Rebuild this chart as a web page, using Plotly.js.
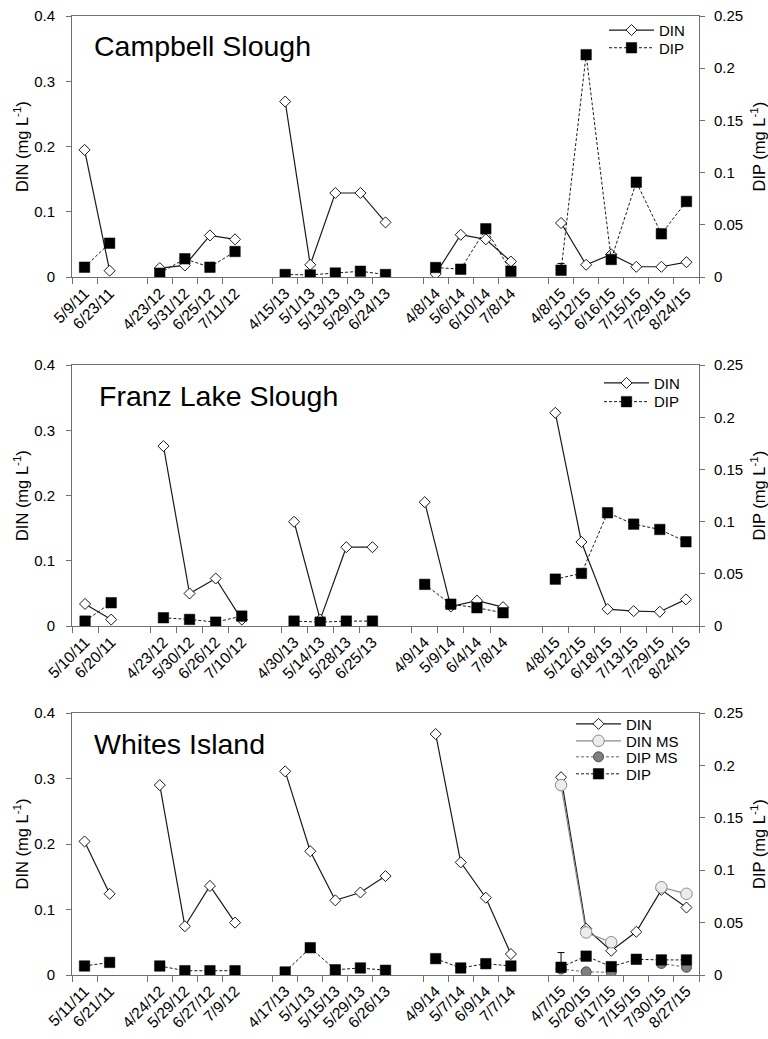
<!DOCTYPE html>
<html><head><meta charset="utf-8">
<script src="https://cdn.plot.ly/plotly-3.0.1.min.js"></script>
<style>html,body{margin:0;padding:0;background:#fff}#chart{width:768px;height:1039px}</style>
</head><body><div id="chart"></div>
<script>
// ---------- Campbell Slough ----------
const cs_dates = ['5/9/11','6/23/11','4/23/12','5/31/12','6/25/12','7/11/12','4/15/13','5/1/13','5/13/13','5/29/13','6/24/13','4/8/14','5/6/14','6/10/14','7/8/14','4/8/15','5/12/15','6/16/15','7/15/15','7/29/15','8/24/15'];
const cs_din = [0.195,0.010,0.014,0.018,0.064,0.058,0.269,0.019,0.129,0.129,0.084,0.005,0.065,0.058,0.024,0.083,0.019,0.035,0.016,0.016,0.023];
const cs_dip = [0.0096,0.0326,0.0038,0.0176,0.0096,0.0246,0.0026,0.0022,0.004,0.0057,0.0026,0.0093,0.0077,0.0463,0.0057,0.0067,0.213,0.017,0.091,0.0415,0.0725];
const cs_dip_err = [null,null,null,null,null,null,null,null,null,null,null,null,null,null,null,0.0065,null,null,null,null,null];

// ---------- Franz Lake Slough ----------
const fl_dates = ['5/10/11','6/20/11','4/23/12','5/30/12','6/26/12','7/10/12','4/30/13','5/14/13','5/28/13','6/25/13','4/9/14','5/9/14','6/4/14','7/8/14','4/8/15','5/12/15','6/18/15','7/13/15','7/29/15','8/24/15'];
const fl_din = [0.034,0.010,0.276,0.050,0.073,0.010,0.160,0.010,0.121,0.121,0.190,0.030,0.039,0.029,0.327,0.129,0.026,0.023,0.022,0.041];
const fl_dip = [0.0048,0.0224,0.008,0.0064,0.0038,0.0096,0.0048,0.0038,0.0048,0.0048,0.040,0.021,0.0176,0.0128,0.045,0.0505,0.1086,0.0977,0.0926,0.0808];

// ---------- Whites Island ----------
const wi_dates = ['5/11/11','6/21/11','4/24/12','5/29/12','6/27/12','7/9/12','4/17/13','5/1/13','5/15/13','5/29/13','6/26/13','4/9/14','5/7/14','6/9/14','7/7/14','4/7/15','5/20/15','6/17/15','7/15/15','7/30/15','8/27/15'];
const wi_din = [0.204,0.124,0.290,0.0745,0.136,0.080,0.311,0.189,0.114,0.126,0.151,0.368,0.172,0.118,0.032,0.302,0.071,0.037,0.066,0.130,0.103];
const wi_dip = [0.0086,0.012,0.0086,0.0041,0.0041,0.0041,0.0029,0.026,0.005,0.0067,0.0045,0.0156,0.0067,0.0108,0.0086,0.0074,0.018,0.008,0.015,0.0144,0.0144];
const wi_dip_err = [null,null,null,null,null,null,null,null,null,null,null,null,null,null,null,0.014,null,null,null,null,null];
const wi_ms_dates = ['4/7/15','5/20/15','6/17/15','7/15/15','7/30/15','8/27/15'];
const wi_din_ms = [0.290,0.065,0.050,null,0.134,0.124];
const wi_dip_ms = [0.0057,0.003,0.0026,null,0.011,0.0074];

const site_names = ['Campbell Slough','Franz Lake Slough','Whites Island'];

// ---------- helpers ----------
function withGaps(dates){
  const out=[]; let prev=null, g=0;
  dates.forEach(d=>{ const yr=d.split('/')[2]; if(prev!==null && yr!==prev){ g++; out.push('gap'+g); } out.push(d); prev=yr; });
  return out;
}
function alignTo(cats, dates, vals){ return cats.map(c=>{ const i=dates.indexOf(c); return i<0?null:vals[i]; }); }

const FONT = 'Liberation Sans, Arial, sans-serif';
const AX = '#707070';
const INK = '#1a1a1a';

const cs_cats = withGaps(cs_dates), fl_cats = withGaps(fl_dates), wi_cats = withGaps(wi_dates);

function dinTrace(cats, dates, vals, xa, ya, lg){
  return {type:'scatter', mode:'lines+markers', name:'DIN', x:cats, y:alignTo(cats,dates,vals), xaxis:xa, yaxis:ya, legend:lg,
    connectgaps:false, line:{color:INK, width:1.2}, marker:{symbol:'diamond', size:8.5, color:'#fff', line:{color:INK, width:1}}};
}
function dipTrace(cats, dates, vals, err, xa, ya, lg){
  const t = {type:'scatter', mode:'lines+markers', name:'DIP', x:cats, y:alignTo(cats,dates,vals), xaxis:xa, yaxis:ya, legend:lg,
    connectgaps:false, line:{color:INK, width:1, dash:'3px,2px'}, marker:{symbol:'square', size:10.5, color:'#000', line:{color:'#000', width:0.5}}};
  if(err){ t.error_y = {type:'data', symmetric:false, array:alignTo(cats,dates,err), arrayminus:alignTo(cats,dates,err.map(v=>v===null?null:0)), color:'#000', thickness:1, width:3.5}; }
  return t;
}

const data = [
  dinTrace(cs_cats, cs_dates, cs_din, 'x', 'y', 'legend'),
  dipTrace(cs_cats, cs_dates, cs_dip, cs_dip_err, 'x', 'y2', 'legend2'),
  dinTrace(fl_cats, fl_dates, fl_din, 'x2', 'y3', 'legend3'),
  dipTrace(fl_cats, fl_dates, fl_dip, null, 'x2', 'y4', 'legend4'),
  dinTrace(wi_cats, wi_dates, wi_din, 'x3', 'y5', 'legend5'),
  {type:'scatter', mode:'lines+markers', name:'DIN MS', x:wi_ms_dates, y:wi_din_ms, xaxis:'x3', yaxis:'y5', legend:'legend6', connectgaps:false,
    line:{color:'#8a8a8a', width:1.2}, marker:{symbol:'circle', size:11.5, color:'#ececec', line:{color:'#8a8a8a', width:1}}},
  {type:'scatter', mode:'lines+markers', name:'DIP MS', x:wi_ms_dates, y:wi_dip_ms, xaxis:'x3', yaxis:'y6', legend:'legend7', connectgaps:false,
    line:{color:'#666', width:1, dash:'3px,2px'}, marker:{symbol:'circle', size:10, color:'#7f7f7f', line:{color:'#4a4a4a', width:1}}},
  dipTrace(wi_cats, wi_dates, wi_dip, wi_dip_err, 'x3', 'y6', 'legend8')
];

const L=72, R=69, T=15.7, B=64, W=768, H=1039;
const PH = H-T-B;
const py = p => (H-B-p)/PH;          // pixel y -> paper y
const px = p => (p-L)/(W-L-R);       // pixel x -> paper x

function xAxis(cats, anchor){
  const real = cats.filter(c=>!c.startsWith('gap'));
  return {type:'category', categoryorder:'array', categoryarray:cats, range:[-0.5, cats.length-0.5],
    tickmode:'array', tickvals:real, ticktext:real,
    tickson:'boundaries', ticks:'outside', ticklen:6, tickwidth:1, tickcolor:AX, tickangle:-45,
    showline:true, linecolor:AX, linewidth:1, mirror:true, showgrid:false, zeroline:false, anchor:anchor,
    tickfont:{family:FONT, size:15.5, color:'#000'}};
}
function yLeft(dom, anchor){
  return {domain:dom, anchor:anchor, range:[0,0.4], tick0:0, dtick:0.1, ticks:'outside', ticklen:5, tickcolor:AX,
    showline:true, linecolor:AX, linewidth:1, showgrid:false, zeroline:false,
    tickfont:{family:FONT, size:15, color:'#000'}, ticklabelstandoff:8,
    title:{text:'DIN (mg L<sup>-1</sup>)', font:{family:FONT, size:16.5, color:'#000'}, standoff:1}};
}
function yRight(over, anchor){
  return {overlaying:over, side:'right', anchor:anchor, range:[0,0.25], tick0:0, dtick:0.05, ticks:'outside', ticklen:5, tickcolor:AX,
    showline:true, linecolor:AX, linewidth:1, showgrid:false, zeroline:false,
    tickfont:{family:FONT, size:15, color:'#000'}, ticklabelstandoff:6,
    title:{text:'DIP (mg L<sup>-1</sup>)', font:{family:FONT, size:16.5, color:'#000'}, standoff:11}};
}
function leg(xp, yp){
  return {x:px(xp), y:py(yp), xanchor:'left', yanchor:'middle', bgcolor:'rgba(0,0,0,0)', borderwidth:0,
    font:{family:FONT, size:15, color:'#000'}, itemwidth:45, tracegroupgap:0};
}

const d1=[py(277),1], d2=[py(626),py(365)], d3=[0,py(713)];

const layout = {
  width:W, height:H, margin:{l:L, r:R, t:T, b:B}, paper_bgcolor:'#fff', plot_bgcolor:'#fff',
  font:{family:FONT, color:'#000'},
  xaxis:xAxis(cs_cats,'y'), yaxis:yLeft(d1,'x'), yaxis2:yRight('y','x'),
  xaxis2:xAxis(fl_cats,'y3'), yaxis3:yLeft(d2,'x2'), yaxis4:yRight('y3','x2'),
  xaxis3:xAxis(wi_cats,'y5'), yaxis5:yLeft(d3,'x3'), yaxis6:yRight('y5','x3'),
  legend:leg(604,30), legend2:leg(604,47.7),
  legend3:leg(599,383), legend4:leg(599,401.7),
  legend5:leg(571,724), legend6:leg(571,741), legend7:leg(571,757), legend8:leg(571,774),
  annotations:[
    {text:site_names[0], xref:'paper', yref:'paper', x:px(92), y:py(45.5), xanchor:'left', yanchor:'middle', showarrow:false, font:{family:FONT, size:28.5, color:'#000'}},
    {text:site_names[1], xref:'paper', yref:'paper', x:px(97), y:py(395.5), xanchor:'left', yanchor:'middle', showarrow:false, font:{family:FONT, size:28.5, color:'#000'}},
    {text:site_names[2], xref:'paper', yref:'paper', x:px(92), y:py(743.8), xanchor:'left', yanchor:'middle', showarrow:false, font:{family:FONT, size:28.5, color:'#000'}}
  ],
  showlegend:true
};
Plotly.newPlot('chart', data, layout, {staticPlot:true, displayModeBar:false}).then(gd=>{
  // drop Plotly's empty placeholder text nodes (they draw nothing)
  gd.querySelectorAll('text').forEach(t=>{ if(!t.textContent.trim()) t.remove(); });
});
</script></body></html>
